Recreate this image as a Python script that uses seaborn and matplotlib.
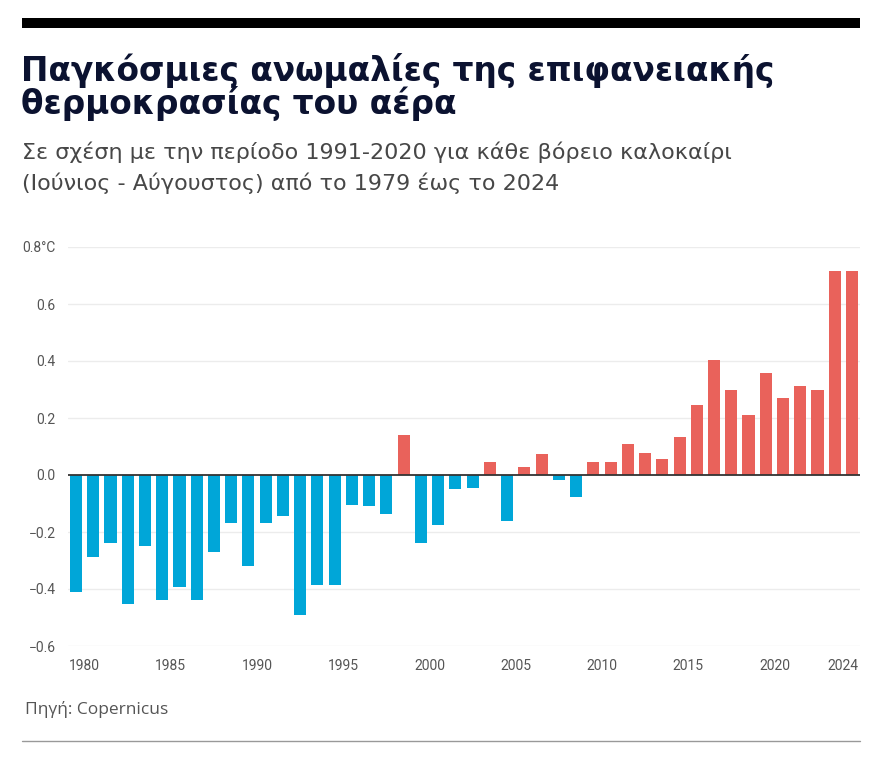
import matplotlib
matplotlib.use("Agg")
import matplotlib.pyplot as plt
import seaborn as sns
import pandas as pd
import numpy as np

years = list(range(1979, 2025))
anomalies = [-0.41, -0.287, -0.237, -0.454, -0.249, -0.439, -0.394, -0.439, -0.271, -0.167,
             -0.318, -0.167, -0.143, -0.491, -0.385, -0.385, -0.105, -0.109, -0.137, 0.140,
             -0.237, -0.174, -0.049, -0.047, 0.044, -0.161, 0.028, 0.073, -0.018, -0.078,
             0.044, 0.044, 0.110, 0.078, 0.056, 0.134, 0.244, 0.405, 0.297, 0.211,
             0.357, 0.270, 0.313, 0.298, 0.715, 0.715]
tick_years = [1980, 1985, 1990, 1995, 2000, 2005, 2010, 2015, 2020, 2024]
ytick_vals = [0.8, 0.6, 0.4, 0.2, 0.0, -0.2, -0.4, -0.6]
ytick_labels = ["0.8°C", "0.6", "0.4", "0.2", "0.0", "−0.2", "−0.4", "−0.6"]

title_1 = "Παγκόσμιες ανωμαλίες της επιφανειακής"
title_2 = "θερμοκρασίας του αέρα"
subtitle_1 = "Σε σχέση με την περίοδο 1991-2020 για κάθε βόρειο καλοκαίρι"
subtitle_2 = "(Ιούνιος - Αύγουστος) από το 1979 έως το 2024"
source = "Πηγή: Copernicus"

BLUE = "#00a6d8"
RED = "#e9625b"

sns.set_theme(style="white")
plt.rcParams["font.family"] = ["Roboto", "DejaVu Sans"]

df = pd.DataFrame({"year": years, "value": anomalies})
df["sign"] = np.where(df["value"] >= 0, "pos", "neg")

W, H = 880, 760
fig = plt.figure(figsize=(W / 100, H / 100), dpi=100)
fig.patch.set_facecolor("white")

ax_l, ax_r, ax_t, ax_b = 68, 860, 247, 646
ax = fig.add_axes([ax_l / W, 1 - ax_b / H, (ax_r - ax_l) / W, (ax_b - ax_t) / H])

sns.barplot(data=df, x="year", y="value", hue="sign",
            palette={"pos": RED, "neg": BLUE}, dodge=False, width=0.7,
            legend=False, ax=ax, linewidth=0, saturation=1)

ax.set_ylim(-0.6, 0.8)
ax.set_xlim(-0.464, 45.464)
ax.set_yticks(ytick_vals)
ax.set_yticklabels(ytick_labels)
ax.set_xticks([years.index(y) - 0.5 for y in tick_years])
ax.set_xticklabels([str(y) for y in tick_years])
for v in ytick_vals:
    if v != 0:
        ax.axhline(v, color="#ececec", lw=1.0, zorder=0)
ax.axhline(0, color="#333333", lw=1.3, zorder=3)
ax.set_xlabel("")
ax.set_ylabel("")
for s in ax.spines.values():
    s.set_visible(False)
tick_font = ["Roboto", "DejaVu Sans"]
ax.tick_params(axis="both", length=0, colors="#555555", labelsize=10)
ax.tick_params(axis="y", pad=9)
ax.tick_params(axis="x", pad=9)
for lab in ax.get_xticklabels() + ax.get_yticklabels():
    lab.set_family(tick_font)

# top black bar
fig.add_artist(plt.Rectangle((22 / W, 1 - 28 / H), (860 - 22) / W, 10 / H,
                             transform=fig.transFigure, color="black", lw=0))
# bottom rule
fig.add_artist(plt.Line2D([22 / W, 860 / W], [1 - 741 / H, 1 - 741 / H],
                          transform=fig.transFigure, color="#999999", lw=1))

tfont = ["DejaVu Sans"]
fig.text(21 / W, 1 - 81 / H, title_1, ha="left", va="baseline", fontsize=23.6,
         fontweight="bold", color="#0b1230", family=tfont)
fig.text(21 / W, 1 - 114 / H, title_2, ha="left", va="baseline", fontsize=23.6,
         fontweight="bold", color="#0b1230", family=tfont)
fig.text(22 / W, 1 - 159 / H, subtitle_1, ha="left", va="baseline", fontsize=16,
         color="#474747", family=["DejaVu Sans"])
fig.text(22 / W, 1 - 190 / H, subtitle_2, ha="left", va="baseline", fontsize=16,
         color="#474747", family=["DejaVu Sans"])
fig.text(25 / W, 1 - 701 / H, source, ha="left", va="top", fontsize=12.5,
         color="#555555", family=["Open Sans", "DejaVu Sans"])

fig.savefig("out.png", dpi=100, facecolor="white")
